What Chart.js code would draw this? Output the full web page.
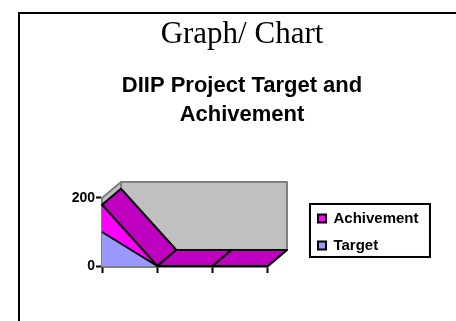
<!DOCTYPE html>
<html>
<head>
<meta charset="utf-8">
<title>DIIP Project Target and Achivement</title>
<script src="https://cdn.jsdelivr.net/npm/chart.js@4.4.1/dist/chart.umd.min.js"></script>
<style>
  html, body { margin: 0; padding: 0; background: #fff; }
  #moldura { position: absolute; left: 18px; top: 12px; width: 460px; height: 330px; border-left: 2px solid #000; border-top: 2px solid #000; }
  #grafico { position: absolute; left: 0; top: 0; }
</style>
</head>
<body>
<div id="moldura"></div>
<canvas id="grafico" width="456" height="321"></canvas>
<script>
const categorias = ['1', '2', '3', '4'];
const target = [100, 0, 0, 0];
const achivement = [80, 0, 0, 0];
const ticksY = [0, 200];

const fonteSans = "'Liberation Sans', Arial, sans-serif";
const profundidade = { dx: 19, dy: -16 };

function caminho(ctx, pontos) {
    ctx.beginPath();
    ctx.moveTo(pontos[0][0], pontos[0][1]);
    for (let i = 1; i < pontos.length; i++) {
        ctx.lineTo(pontos[i][0], pontos[i][1]);
    }
    ctx.closePath();
}

// paredes e face de cima, imitando o grafico de area 3D
const efeito3d = {
    id: 'efeito3d',
    beforeDatasetsDraw(chart) {
        const ctx = chart.ctx;
        const { dx, dy } = profundidade;
        const x = chart.scales.x;
        const y = chart.scales.y;
        const esq = x.getPixelForValue(0);
        const dir = x.getPixelForValue(categorias.length - 1);
        const topo = y.getPixelForValue(ticksY[ticksY.length - 1]);
        const base = y.getPixelForValue(0);

        ctx.save();
        ctx.lineJoin = 'round';
        ctx.lineWidth = 2;
        ctx.fillStyle = '#c0c0c0';
        ctx.strokeStyle = '#808080';
        caminho(ctx, [[esq, topo], [esq + dx, topo + dy], [esq + dx, base + dy], [esq, base]]);
        ctx.fill(); ctx.stroke();
        caminho(ctx, [[esq + dx, topo + dy], [dir + dx, topo + dy], [dir + dx, base + dy], [esq + dx, base + dy]]);
        ctx.fill(); ctx.stroke();
        caminho(ctx, [[esq, base], [dir, base], [dir + dx, base + dy], [esq + dx, base + dy]]);
        ctx.fill(); ctx.stroke();

        const pontos = chart.getDatasetMeta(chart.data.datasets.length - 1).data;
        ctx.fillStyle = '#c000c0';
        ctx.strokeStyle = '#000';
        for (let i = 0; i < pontos.length - 1; i++) {
            const a = pontos[i];
            const b = pontos[i + 1];
            caminho(ctx, [[a.x, a.y], [b.x, b.y], [b.x + dx, b.y + dy], [a.x + dx, a.y + dy]]);
            ctx.fill(); ctx.stroke();
        }
        ctx.restore();
    },
    afterDraw(chart) {
        const caixas = chart.legend.legendHitBoxes;
        if (!caixas || !caixas.length) return;
        const ultima = caixas[caixas.length - 1];
        const ctx = chart.ctx;
        const x0 = caixas[0].left - 8;
        const y0 = caixas[0].top - 7;
        const y1 = ultima.top + ultima.height + 4;
        ctx.save();
        ctx.lineWidth = 2;
        ctx.strokeStyle = '#000';
        ctx.strokeRect(x0, y0, 120, y1 - y0);
        ctx.restore();
    }
};

let config = {
    type: 'line',
    data: {
        labels: categorias,
        datasets: [{
            label: 'Target',
            data: target,
            yAxisID: 'y',
            backgroundColor: '#9999ff',
            borderColor: '#000',
            borderWidth: 2,
            fill: 'origin',
            pointRadius: 0,
            tension: 0
        }, {
            label: 'Achivement',
            data: achivement,
            yAxisID: 'y',
            backgroundColor: '#ff00ff',
            borderColor: '#000',
            borderWidth: 2,
            fill: '-1',
            pointRadius: 0,
            tension: 0
        }]
    },
    options: {
        responsive: false,
        animation: false,
        layout: { padding: { left: 55.5, right: 27.5, top: 6, bottom: 48 } },
        plugins: {
            title: {
                display: true,
                text: 'Graph/ Chart',
                color: '#000',
                font: { family: "'Liberation Serif', 'Times New Roman', serif", size: 31, weight: 'normal' },
                padding: { top: 10, bottom: 0 }
            },
            subtitle: {
                display: true,
                text: ['DIIP Project Target and', 'Achivement'],
                color: '#000',
                font: { family: fonteSans, size: 22, weight: 'bold', lineHeight: 1.34 },
                padding: { top: 18, bottom: 67.8 }
            },
            legend: {
                position: 'right',
                fullSize: false,
                reverse: true,
                maxWidth: 200,
                labels: {
                    boxWidth: 8,
                    boxHeight: 8,
                    padding: 12,
                    color: '#000',
                    font: { family: fonteSans, size: 15, weight: 'bold' }
                }
            },
            tooltip: { enabled: false }
        },
        scales: {
            x: {
                z: 1,
                afterFit: (escala) => { escala.height = 7; },
                grid: { drawOnChartArea: false, tickLength: 7, tickWidth: 2, tickColor: '#000' },
                border: { color: '#000', width: 2.5 },
                ticks: { display: false }
            },
            y: {
                z: 1,
                stacked: true,
                min: ticksY[0],
                max: ticksY[ticksY.length - 1],
                afterFit: (escala) => { escala.width = 46.5; },
                afterBuildTicks: (escala) => { escala.ticks = ticksY.map(v => ({ value: v })); },
                grid: { drawOnChartArea: false, tickLength: 6, tickWidth: 2, tickColor: '#000' },
                border: { color: '#000', width: 2 },
                ticks: { padding: 1, color: '#000', font: { family: fonteSans, size: 14, weight: 'bold' } }
            },
            espaco: {
                position: 'right',
                afterFit: (escala) => { escala.width = 38; },
                grid: { display: false },
                border: { display: false },
                ticks: { display: false }
            }
        }
    },
    plugins: [efeito3d]
};

let ctx = document.getElementById('grafico').getContext('2d');
window.myChart = new Chart(ctx, config);
</script>
</body>
</html>
